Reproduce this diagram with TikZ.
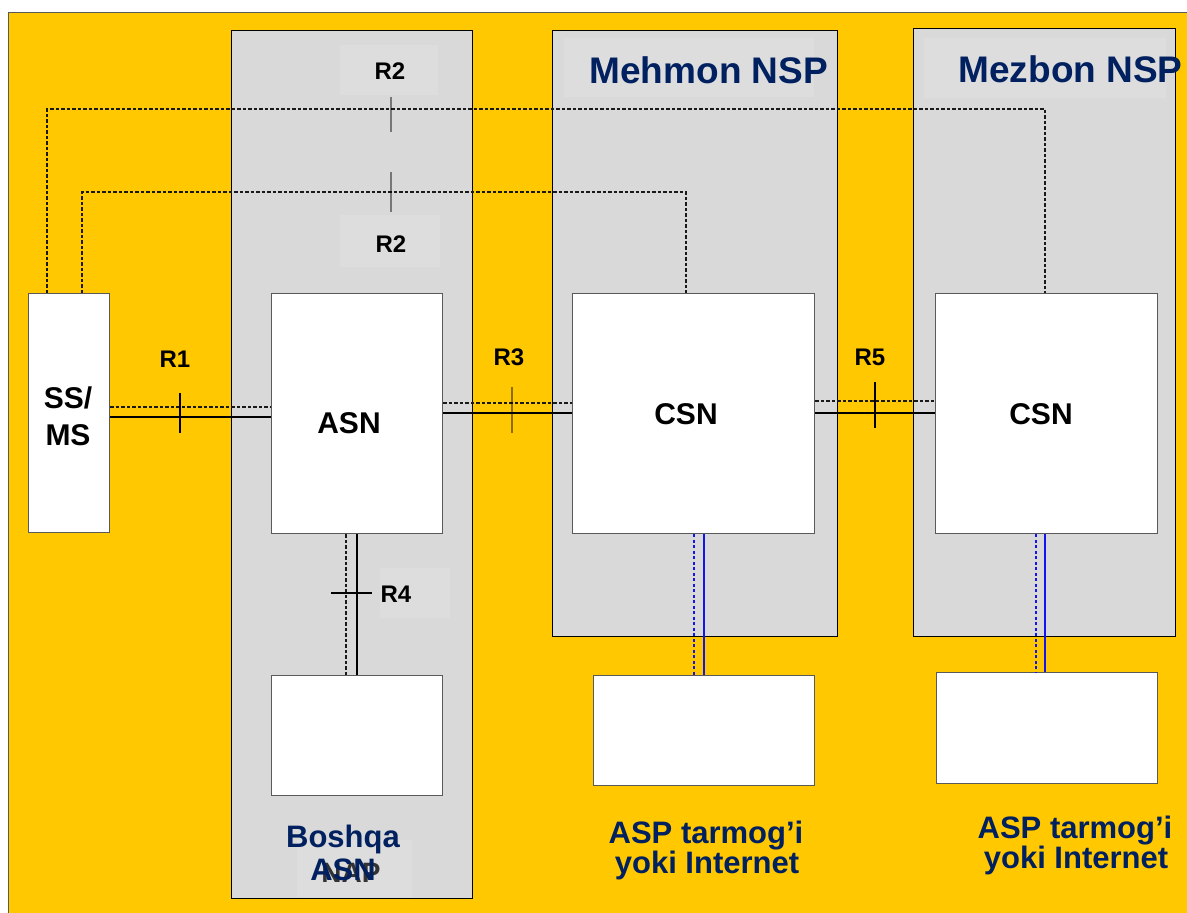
\documentclass[tikz,border=0pt]{standalone}
\usepackage{fontspec}
\setmainfont{Liberation Sans}
\definecolor{bgyellow}{RGB}{255,200,0}
\definecolor{panelgray}{RGB}{217,217,217}
\definecolor{labelgray}{RGB}{221,221,221}
\definecolor{navy}{RGB}{0,32,96}
\definecolor{boxedge}{RGB}{90,90,90}
\definecolor{linkblue}{RGB}{20,20,240}
\tikzset{
  panel/.style={draw=black, line width=1.4pt, fill=panelgray, anchor=north west, inner sep=0pt},
  wbox/.style={draw=boxedge, line width=1.4pt, fill=white, anchor=north west, inner sep=0pt},
  lblbg/.style={fill=labelgray, anchor=north west, inner sep=0pt},
  rlabel/.style={font=\bfseries\fontsize{24}{24}\selectfont, text=black},
  boxtext/.style={font=\bfseries\fontsize{30}{37}\selectfont, text=black, align=center},
  navytitle/.style={font=\bfseries\fontsize{37}{37}\selectfont, text=navy},
  navytext/.style={font=\bfseries\fontsize{31}{30}\selectfont, text=navy, align=center},
  ctrl/.style={draw=black!90, line width=1.9pt, dash pattern=on 3.5pt off 2pt},
  data/.style={draw=black, line width=1.6pt},
  bluectrl/.style={draw=linkblue, line width=1.8pt, dash pattern=on 3pt off 2.5pt},
  bluedata/.style={draw=linkblue, line width=1.7pt},
  tickmark/.style={draw=black, line width=1.2pt},
  softtick/.style={draw=black, draw opacity=0.45, line width=2pt},
}
\begin{document}
\begin{tikzpicture}[x=1pt,y=-1pt]
\useasboundingbox (0,0) rectangle (1187,913);
% background
\fill[white] (0,0) rectangle (1187,913);
\fill[bgyellow] (8,12) rectangle (1187,913);
\draw[black!65, line width=1.2pt] (8.6,913) -- (8.6,12.6) -- (1187,12.6);

% panels
\node[panel, minimum width=241pt, minimum height=868pt] (pasn) at (231,30) {};
\node[panel, minimum width=285pt, minimum height=606pt] (pmeh) at (552,30) {};
\node[panel, minimum width=262pt, minimum height=608pt] (pmez) at (913,28) {};

% faint label backgrounds
\node[lblbg, minimum width=98pt, minimum height=50pt] (r2abg) at (340,45) {};
\node[lblbg, minimum width=100pt, minimum height=52pt] (r2bbg) at (340,215) {};
\node[lblbg, minimum width=70pt, minimum height=50pt] (r4bg) at (380,568) {};
\node[lblbg, minimum width=115pt, minimum height=57pt] (napbg) at (297,840) {};
\node[lblbg, minimum width=250pt, minimum height=59pt] (mehbg) at (564,38) {};
\node[lblbg, minimum width=242pt, minimum height=60pt] (mezbg) at (924,38) {};

% boxes
\node[wbox, minimum width=81pt, minimum height=239pt] (ssms) at (28,293) {};
\node[wbox, minimum width=171pt, minimum height=240pt] (asn) at (271,293) {};
\node[wbox, minimum width=242pt, minimum height=240pt] (csna) at (572,293) {};
\node[wbox, minimum width=222pt, minimum height=240pt] (csnb) at (935,293) {};
\node[wbox, minimum width=171pt, minimum height=120pt] (nap) at (271,675) {};
\node[wbox, minimum width=221pt, minimum height=110pt] (aspa) at (593,675) {};
\node[wbox, minimum width=221pt, minimum height=111pt] (aspb) at (936,672) {};

% box texts
\node[boxtext] (tssms) at (68,416) {SS/\\MS};
\node[boxtext] (tasn) at (349,423) {ASN};
\node[boxtext] (tcsna) at (686,414) {CSN};
\node[boxtext] (tcsnb) at (1041,414) {CSN};

% coordinates for connectors
\coordinate (yr1d) at (0,407);
\coordinate (yr1s) at (0,417);
\coordinate (yr3d) at (0,403);
\coordinate (yr3s) at (0,413);
\coordinate (yr5d) at (0,401);
\coordinate (yr5s) at (0,413);
\coordinate (up) at (47,109);
\coordinate (lo) at (82,192);

% R1
\draw[ctrl] (ssms.east |- yr1d) -- (asn.west |- yr1d);
\draw[data] (ssms.east |- yr1s) -- (asn.west |- yr1s);
\draw[tickmark] (180,393) -- (180,433);
\node[rlabel] (r1) at (175,359) {R1};
% R3
\draw[ctrl] (asn.east |- yr3d) -- (csna.west |- yr3d);
\draw[data] (asn.east |- yr3s) -- (csna.west |- yr3s);
\draw[softtick] (512,387) -- (512,433);
\node[rlabel] (r3) at (509,357) {R3};
% R5
\draw[ctrl] (csna.east |- yr5d) -- (csnb.west |- yr5d);
\draw[data] (csna.east |- yr5s) -- (csnb.west |- yr5s);
\draw[tickmark] (875,382) -- (875,428);
\node[rlabel] (r5) at (870,357) {R5};
% R4
\draw[ctrl] (asn.south -| 346,0) -- (nap.north -| 346,0);
\draw[data] (asn.south -| 357,0) -- (nap.north -| 357,0);
\draw[tickmark] (331,593) -- (372,593);
\node[rlabel] (r4) at (396,594) {R4};

% R2 control paths
\draw[ctrl] (ssms.north -| up) -- (up) -- (1045,109) -- (csnb.north -| 1045,0);
\draw[ctrl] (ssms.north -| lo) -- (lo) -- (686,192) -- (csna.north -| 686,0);
\draw[softtick] (391,97) -- (391,132);
\draw[softtick] (391,172) -- (391,212);
\node[rlabel] (r2a) at (390,71) {R2};
\node[rlabel] (r2b) at (391,244) {R2};

% CSN to ASP/Internet links
\draw[bluectrl] (csna.south -| 694,0) -- (aspa.north -| 694,0);
\draw[bluedata] (csna.south -| 704,0) -- (aspa.north -| 704,0);
\draw[bluectrl] (csnb.south -| 1036,0) -- (aspb.north -| 1036,0);
\draw[bluedata] (csnb.south -| 1045,0) -- (aspb.north -| 1045,0);

% titles
\node[navytitle, anchor=base west] (tmeh) at (586,83) {Mehmon NSP};
\node[navytitle, anchor=base west] (tmez) at (955,82) {Mezbon NSP};

% bottom labels
\node[font=\bfseries\fontsize{28}{28}\selectfont, text=black!80, anchor=base] (tnap) at (351,882) {NAP};
\node[navytext, anchor=base] (tbosh) at (343,847) {Boshqa};
\node[navytext, anchor=base] (tbasn) at (343,880) {ASN};
\node[navytext, anchor=base] (taspa1) at (706,843) {ASP tarmog’i};
\node[navytext, anchor=base] (taspa2) at (707,873) {yoki Internet};
\node[navytext, anchor=base] (taspb1) at (1075,838) {ASP tarmog’i};
\node[navytext, anchor=base] (taspb2) at (1076,868) {yoki Internet};
\end{tikzpicture}
\end{document}
